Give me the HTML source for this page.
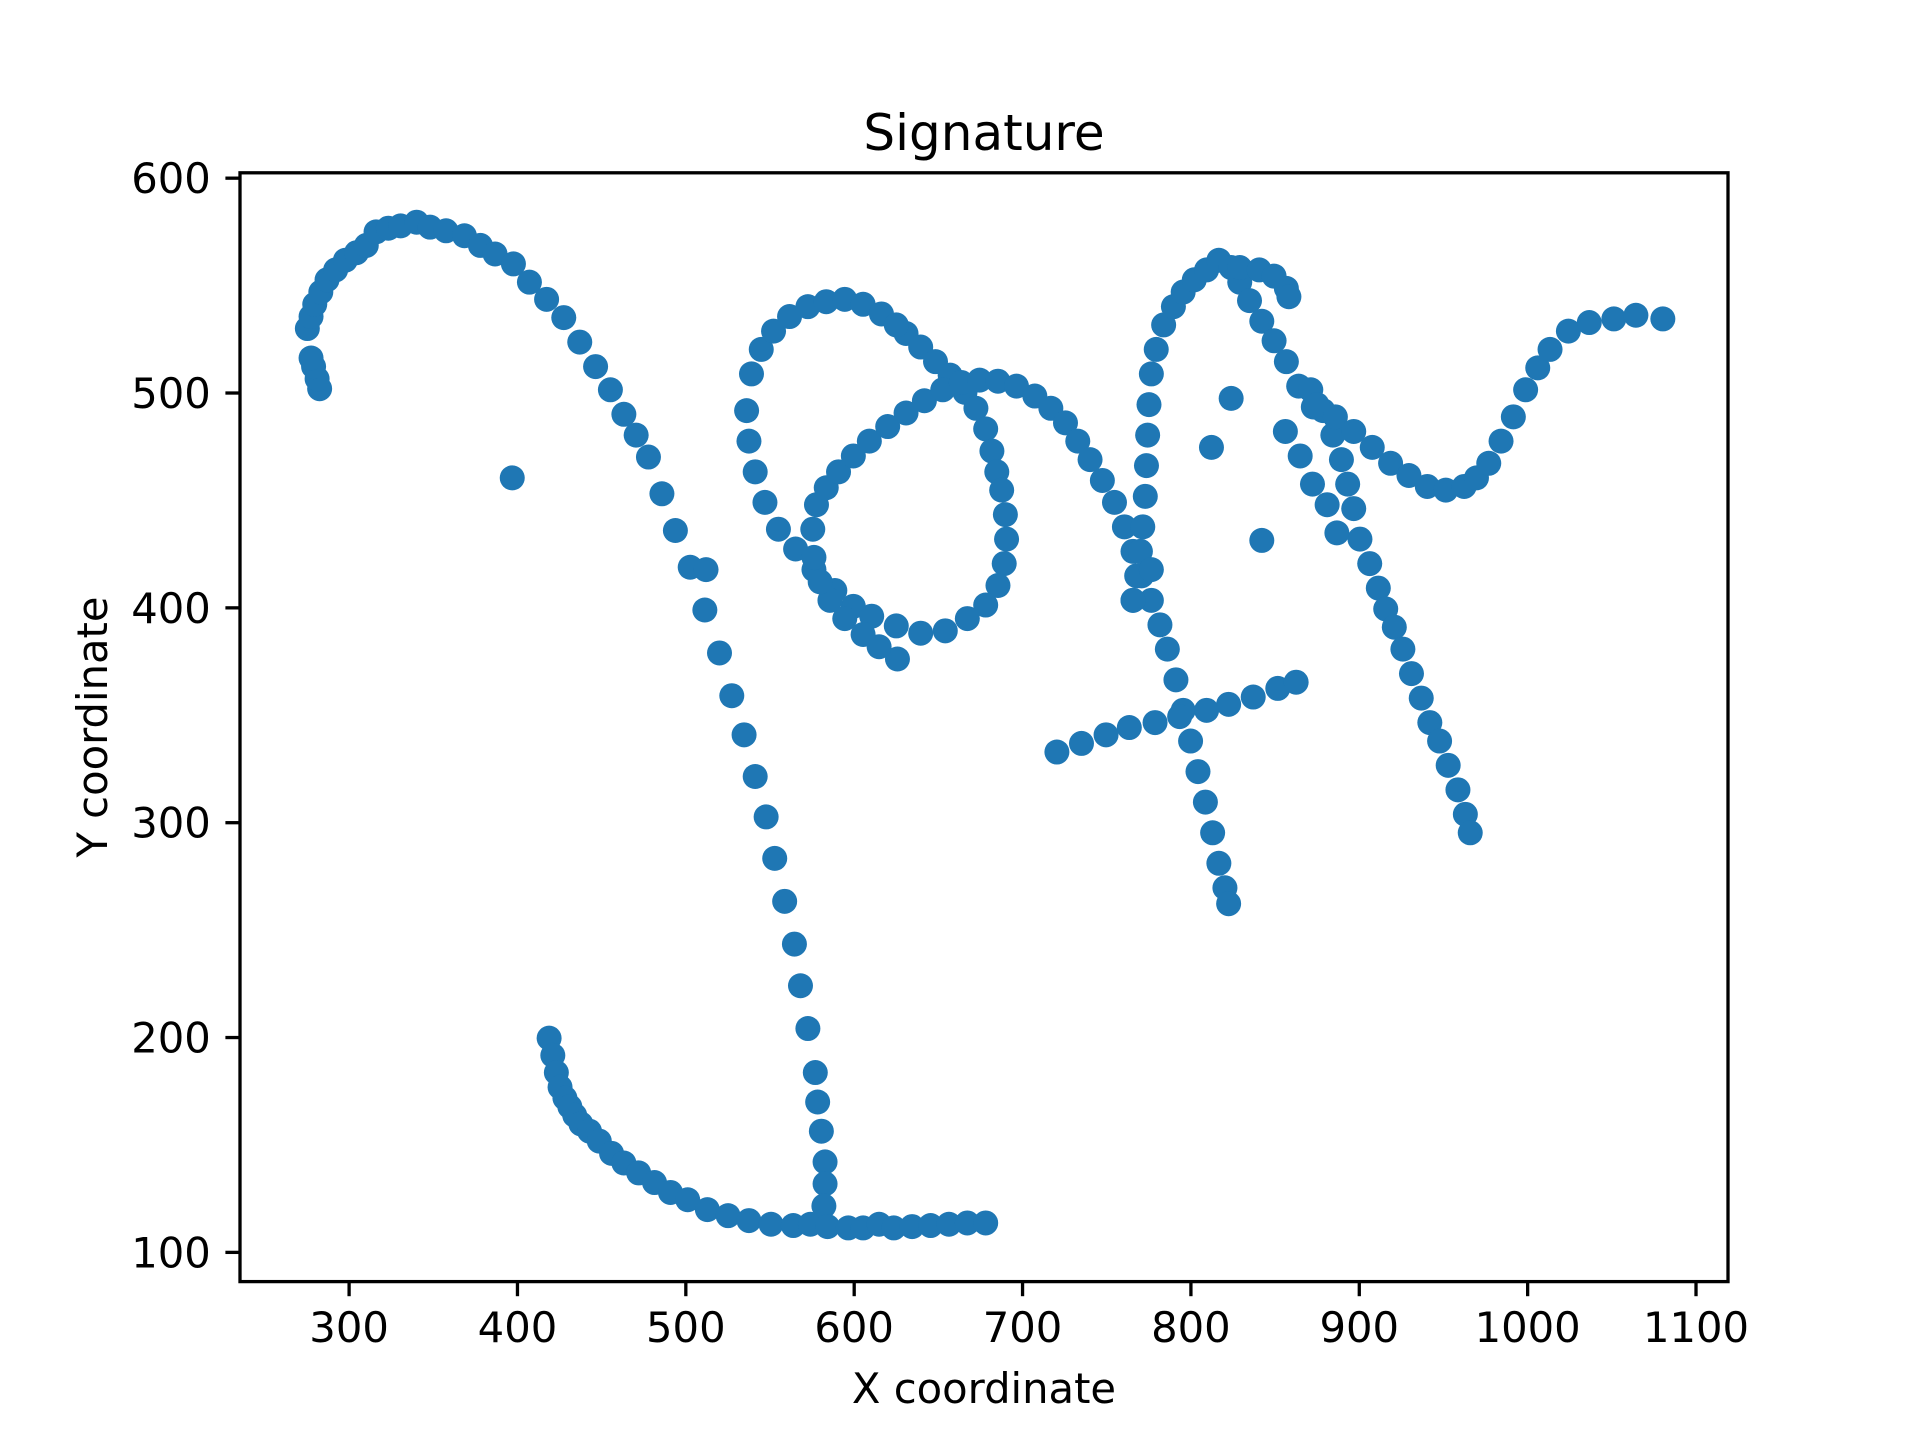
<!DOCTYPE html>
<html><head><meta charset="utf-8"><style>
html,body{margin:0;padding:0;background:#fff;}
svg{display:block;font-family:"DejaVu Sans","Liberation Sans",sans-serif;}
</style></head><body>
<svg id="chart" width="1920" height="1440" viewBox="0 0 1920 1440" xmlns="http://www.w3.org/2000/svg">
<rect width="1920" height="1440" fill="#fff"/>
<text x="984" y="150" font-size="50" text-anchor="middle">Signature</text>
<g id="points"></g>
<g id="axes"></g>
<text x="984" y="1403" font-size="41.7" text-anchor="middle">X coordinate</text>
<text x="0" y="0" font-size="41.7" text-anchor="middle" transform="translate(107,727) rotate(-90)">Y coordinate</text>
</svg>
<script>
const xTicks = [300,400,500,600,700,800,900,1000,1100];
const yTicks = [100,200,300,400,500,600];
const strokeArcX = [282.5,281,278.9,277.4,275.2,277.4,279.6,283.2,286.9,292,297.8,304.4,310.2,316,323.3,330.6,340.1,348.1,357.6,368.5,378,386.7,397.6,407.1,417.3,427.5,437,446.4,455.2,463.2,470.5,477.8,485.8,493.8,502.6,512,511.3,520,527.3,534.6,541.2,547.7,552.8,558.7,564.5,568.1,572.5,576.9,578.3,580.5,582.7,582.7,582];
const strokeArcY = [502,506.6,512.3,516.3,530,535.6,541.3,547,552.7,557.3,561.8,565.3,568.7,575,576.7,577.8,579.5,577.2,575.5,573.2,568.7,564.7,560.1,551.6,543.6,535.1,523.7,512.3,501.5,490.1,480.4,470.2,453.1,436,418.9,417.8,399,379,359.1,340.9,321.5,302.7,283.4,263.4,243.5,224.1,204.2,183.7,170,156.4,142.1,131.9,121.6];
const strokeHookX = [418.8,421,423.1,425.3,428.2,431.1,434,437.7,442.8,448.6,455.9,463.2,472,481.4,490.9,501.1,512.8,525.1,537.5,550.6,563.8,574,584.2,596.5,605.3,614.8,623.5,634.4,645.4,656.3,667.2,678.1];
const strokeHookY = [199.7,191.7,183.7,176.9,171.8,167.8,163.8,159.8,156.4,151.8,146.1,141.6,137,132.5,127.9,124.5,119.9,117.1,114.8,113.1,112.5,113.1,112,111.4,111.4,113.1,111.4,112,112.5,113.1,113.7,113.7];
const strokeLoopX = [630.8,639.5,648.3,657,665.8,672.3,678.1,681.8,684.7,687.6,689.8,690.5,689.1,685.4,678.1,667.2,654.1,639.5,625,610.4,599.5,588.5,576.1,565.2,555,547,541.2,537.5,536.1,539,544.8,552.1,561.6,572.5,583.4,594.4,605.3,616.2,625];
const strokeLoopY = [527.7,521.4,514.6,508.3,500.3,492.9,483.3,473,463.3,454.8,443.4,432,420.6,410.4,401.3,395,389.3,388.2,391.6,396.1,400.7,408.1,417.8,427.4,436.6,449.1,463.3,477.6,491.8,508.9,520.3,528.8,535.6,540.2,542.5,543.6,541.3,536.8,531.7];
const strokeInnerX = [625.7,614.8,605.3,594.4,585.6,579.8,576.1,575.4,577.6,583.4,590.7,599.5,609,619.9,630.8,641.7,652.6,663.6,674.5,685.4,696.4,707.3,716.8,725.5,732.8,740.1,747.4,754.6,760.5,765.6,770.7,776.5,781.6,786,791.1,795.4,799.8,804.2,808.6,812.9,816.6,820.2,822.4];
const strokeInnerY = [376.2,381.9,387.6,395,403.5,412.1,423.5,436.6,448,455.9,463.3,470.7,477.6,484.4,490.7,496.4,501.5,504.9,506,505.5,503.2,498.6,492.9,486.1,477.6,469,459.3,449.1,437.7,426.3,414.9,403.5,392.1,380.8,366.5,352.3,338,323.8,309.6,295.3,281.1,269.7,262.3];
const strokeTX = [765.6,767.8,770,771.4,772.9,773.6,774.3,775.1,776.5,779.4,783.8,789.6,795.4,802,809.3,816.6,823.9,829,834.8,842.1,849.4,856.7,864,872.7,829,840.6,849.4,856.7,858.2];
const strokeTY = [403.5,414.9,426.3,437.7,451.9,466.2,480.4,494.6,508.9,520.3,531.7,540.2,547,552.7,557.3,561.8,558.4,551.6,543,533.4,524.3,514.6,503.2,493.5,558.4,557.3,554.4,548.7,544.8];
const strokeDownX = [871.2,878.5,884.3,889.4,893.1,896.7,900.4,906.2,911.3,915.7,920.8,925.9,931,936.8,941.9,947.7,952.8,958.6,963,965.9,856.1,864.9,872.2,880.9,886.7];
const strokeDownY = [501.5,491.8,480.4,469,457.6,446.2,432,420.6,409.2,399.5,391,380.8,369.4,358,346.6,338,326.7,315.3,303.9,295.3,482.1,470.7,457.6,448,434.9];
const strokeWaveX = [874.9,885.8,896.7,907.7,918.6,929.5,940.4,951.4,962.3,969.6,976.9,984.2,991.5,998.8,1006,1013.3,1024.2,1036.6,1051.2,1064.3,1080.3];
const strokeWaveY = [494.6,488.9,482.1,474.7,467.3,461.6,456.5,454.8,456.5,460.5,467.3,477.6,488.9,501.5,511.7,520.3,528.8,532.8,534.5,536.2,534.5];
const strokeBarX = [720.4,735,749.6,763.4,778.7,793.3,809.3,822.4,837,851.6,862.5];
const strokeBarY = [332.9,336.9,340.9,344.3,346.6,349.4,352.3,355.1,358.5,362.5,365.4];
const outlierX = [396.9,823.9,812.2,842.1,776.5,765.6];
const outlierY = [460.5,497.5,474.7,431.4,417.8,403.5];

const X0=240,X1=1728,Y0=1281.6,Y1=172.8;
const xmin=235.2,xmax=1119,ymin=86.4,ymax=602.5;
const sx=v=>X0+(v-xmin)/(xmax-xmin)*(X1-X0);
const sy=v=>Y0-(v-ymin)/(ymax-ymin)*(Y0-Y1);
const NS="http://www.w3.org/2000/svg";
const pts=document.getElementById('points');
const all=[[strokeArcX,strokeArcY],[strokeHookX,strokeHookY],[strokeLoopX,strokeLoopY],[strokeInnerX,strokeInnerY],[strokeTX,strokeTY],[strokeDownX,strokeDownY],[strokeWaveX,strokeWaveY],[strokeBarX,strokeBarY],[outlierX,outlierY]];
all.forEach(([xs,ys])=>{
  for(let i=0;i<xs.length;i++){
    const c=document.createElementNS(NS,'circle');
    c.setAttribute('cx',sx(xs[i]));c.setAttribute('cy',sy(ys[i]));c.setAttribute('r',12.5);c.setAttribute('fill','#1f77b4');
    
    
    pts.appendChild(c);
  }
});
const ax=document.getElementById('axes');
const frame=document.createElementNS(NS,'rect');
frame.setAttribute('x',X0);frame.setAttribute('y',Y1);frame.setAttribute('width',X1-X0);frame.setAttribute('height',Y0-Y1);
frame.setAttribute('fill','none');frame.setAttribute('stroke','#000');frame.setAttribute('stroke-width',3.3);


ax.appendChild(frame);
xTicks.forEach(t=>{
  const x=sx(t);
  const l=document.createElementNS(NS,'line');
  l.setAttribute('x1',x);l.setAttribute('x2',x);l.setAttribute('y1',Y0);l.setAttribute('y2',Y0+14.6);
  l.setAttribute('stroke','#000');l.setAttribute('stroke-width',3.3);
  
  
  ax.appendChild(l);
  const tx=document.createElementNS(NS,'text');
  tx.setAttribute('x',x);tx.setAttribute('y',Y0+14.6+14.6+31);tx.setAttribute('font-size',41.7);tx.setAttribute('text-anchor','middle');
  tx.textContent=t;
  
  
  ax.appendChild(tx);
});
yTicks.forEach(t=>{
  const y=sy(t);
  const l=document.createElementNS(NS,'line');
  l.setAttribute('x1',X0-14.6);l.setAttribute('x2',X0);l.setAttribute('y1',y);l.setAttribute('y2',y);
  l.setAttribute('stroke','#000');l.setAttribute('stroke-width',3.3);
  
  
  ax.appendChild(l);
  const tx=document.createElementNS(NS,'text');
  tx.setAttribute('x',X0-14.6-14.6);tx.setAttribute('y',y+15);tx.setAttribute('font-size',41.7);tx.setAttribute('text-anchor','end');
  tx.textContent=t;
  
  
  ax.appendChild(tx);
});
</script>
</body></html>
